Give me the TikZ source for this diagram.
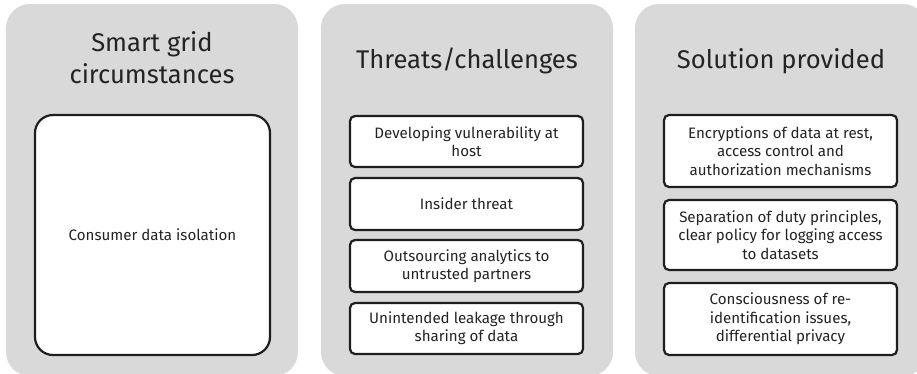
\documentclass[tikz,border=0pt]{standalone}
\usepackage{fontspec}
\setmainfont{Fira Sans}
\definecolor{panelgray}{RGB}{217,217,217}
\definecolor{boxline}{RGB}{30,30,30}
\definecolor{txt}{RGB}{35,35,35}
\begin{document}
\begin{tikzpicture}[x=1bp,y=-1bp,
 panel/.style={fill=panelgray, draw=none, rounded corners=24bp, minimum width=292bp, minimum height=372bp, inner sep=0pt},
 title/.style={font=\fontsize{25.6bp}{31.7bp}\selectfont, text=txt, align=center, inner sep=0pt},
 itembox/.style={draw=boxline, line width=2.2bp, fill=white, rounded corners=5bp, minimum width=233bp, align=center, inner sep=0pt, font=\fontsize{15.1bp}{18.3bp}\selectfont, text=txt},
]
\useasboundingbox (0,0) rectangle (917,373);
\clip (0,0) rectangle (917,373);
% panels
\node[panel] (p1) at (152,190) {};
\node[panel] (p2) at (467,190) {};
\node[panel] (p3) at (781,190) {};
% titles
\node[title] (t1) at (152,58) {Smart grid\\circumstances};
\node[title, anchor=base] (t2) at (467,68) {Threats/challenges};
\node[title, anchor=base] (t3) at (781,68) {Solution provided};
% panel 1
\node[itembox, minimum width=235bp, minimum height=240bp, rounded corners=18bp] (a1) at (152.5,235) {Consumer data isolation};
% panel 2
\node[itembox, minimum height=51bp] (b1) at (466.5,141.5) {Developing vulnerability at\\host};
\node[itembox, minimum height=52bp] (b2) at (466.5,204) {Insider threat};
\node[itembox, minimum height=52bp] (b3) at (466.5,266) {Outsourcing analytics to\\untrusted partners};
\node[itembox, minimum height=51bp] (b4) at (466.5,328.5) {Unintended leakage through\\sharing of data};
% panel 3
\node[itembox, minimum height=72bp] (c1) at (780.5,151) {Encryptions of data at rest,\\access control and\\authorization mechanisms};
\node[itembox, minimum height=70bp] (c2) at (780.5,235) {Separation of duty principles,\\clear policy for logging access\\to datasets};
\node[itembox, minimum height=72bp] (c3) at (780.5,319) {Consciousness of re-\\identification issues,\\differential privacy};
\end{tikzpicture}
\end{document}
